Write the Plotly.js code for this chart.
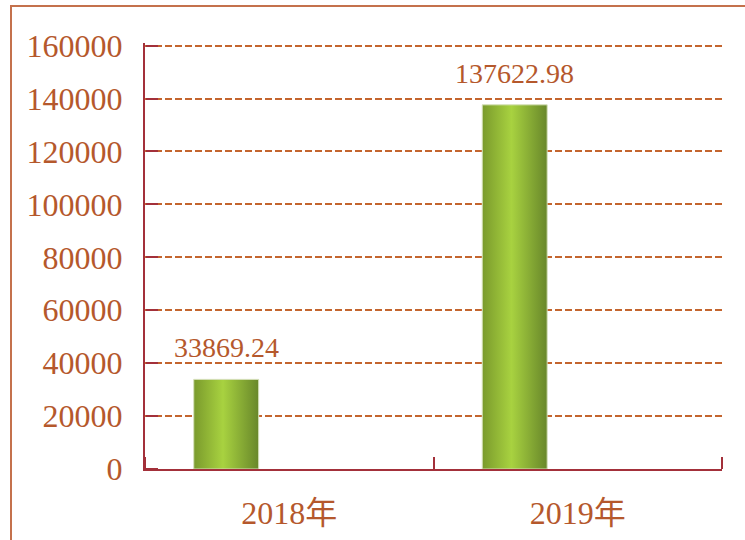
<!DOCTYPE html>
<html>
<head>
<meta charset="utf-8">
<script src="https://cdn.plot.ly/plotly-3.0.1.min.js"></script>
<style>
  html, body { margin: 0; padding: 0; background: #ffffff; overflow: hidden; }
  #chart { width: 745px; height: 540px; position: relative; }
  #frame { position: absolute; left: 10px; top: 5px; width: 760px; height: 560px;
           border-left: 2px solid #c4714c; border-top: 2px solid #c4714c; pointer-events: none; }
</style>
</head>
<body>
<div id="chart"></div>
<div id="frame"></div>
<script>
const categories = ["2018年", "2019年"];
const values = [33869.24, 137622.98];
const valueLabels = ["33869.24", "137622.98"];
const yTickValues = [0, 20000, 40000, 60000, 80000, 100000, 120000, 140000, 160000];
const yTickLabels = ["0", "20000", "40000", "60000", "80000", "100000", "120000", "140000", "160000"];
const xBoundaries = [-0.5, 0.5, 1.5];

const textColor = "#b5582c";
const axisColor = "#a3303a";
const gridColor = "#c4652e";
const fontFamily = "'Liberation Serif', 'Noto Sans CJK SC', serif";

const barWidth = 0.225;
const barOffset = -0.331;

const trace = {
  type: "bar",
  x: categories,
  y: values,
  width: categories.map(() => barWidth),
  offset: categories.map(() => barOffset),
  marker: { color: "#a0c83c", line: { color: "#d4dfb8", width: 1 } },
  hoverinfo: "none",
  cliponaxis: false
};

// helper trace to carry the boundary tick axes (no visible marks)
const tickTrace = {
  type: "scatter", mode: "none",
  x: xBoundaries, y: [0, 0, 0],
  xaxis: "x2", yaxis: "y2", hoverinfo: "none", showlegend: false
};

const annotations = categories.map((c, i) => ({
  x: c, y: values[i], xref: "x", yref: "y",
  text: valueLabels[i],
  showarrow: false,
  xanchor: "center", yanchor: "bottom",
  xshift: -63, yshift: 14,
  font: { family: fontFamily, size: 28, color: textColor }
}));

const yRange = [0, 161000];

const layout = {
  width: 745, height: 540,
  margin: { l: 145, r: 23, t: 43, b: 71 },
  paper_bgcolor: "#ffffff",
  plot_bgcolor: "rgba(0,0,0,0)",
  showlegend: false,
  bargap: 0,
  font: { family: fontFamily, color: textColor },
  xaxis: {
    type: "category",
    range: [-0.5, 1.5],
    showline: true, linecolor: axisColor, linewidth: 2,
    ticks: "",
    showgrid: false, zeroline: false,
    tickfont: { family: fontFamily, size: 32, color: textColor },
    ticklabelstandoff: 15
  },
  yaxis: {
    range: yRange,
    tickmode: "array", tickvals: yTickValues, ticktext: yTickLabels,
    showline: true, linecolor: axisColor, linewidth: 2,
    ticks: "",
    showgrid: true, gridcolor: gridColor, gridwidth: 2, griddash: "7px,3px",
    zeroline: false,
    tickfont: { family: fontFamily, size: 32, color: textColor },
    ticklabelstandoff: 14
  },
  xaxis2: {
    overlaying: "x", side: "top", anchor: "free", position: 0,
    range: [-0.5, 1.5],
    tickmode: "array", tickvals: xBoundaries, showticklabels: false,
    ticks: "outside", ticklen: 12, tickwidth: 2, tickcolor: axisColor,
    showline: false, showgrid: false, zeroline: false
  },
  yaxis2: {
    overlaying: "y", side: "right", anchor: "free", position: 0, range: yRange,
    tickmode: "array", tickvals: yTickValues, showticklabels: false,
    ticks: "outside", ticklen: 12, tickwidth: 2, tickcolor: axisColor,
    showline: false, showgrid: false, zeroline: false
  },
  annotations: annotations
};

Plotly.newPlot("chart", [trace, tickTrace], layout, { displayModeBar: false, staticPlot: true }).then(() => {
  const svg = document.querySelector("#chart .main-svg");
  let defs = svg.querySelector("defs");
  const ns = "http://www.w3.org/2000/svg";
  const grad = document.createElementNS(ns, "linearGradient");
  grad.setAttribute("id", "barGrad");
  grad.setAttribute("x1", "0"); grad.setAttribute("y1", "0");
  grad.setAttribute("x2", "1"); grad.setAttribute("y2", "0");
  [["0%", "#7a9a2c"], ["45%", "#a8d240"], ["100%", "#68872a"]].forEach(([o, c]) => {
    const s = document.createElementNS(ns, "stop");
    s.setAttribute("offset", o); s.setAttribute("stop-color", c);
    grad.appendChild(s);
  });
  defs.appendChild(grad);
  document.querySelectorAll("#chart .bars .point path").forEach(p => {
    p.style.fill = "url(#barGrad)";
  });
});
</script>
</body>
</html>
